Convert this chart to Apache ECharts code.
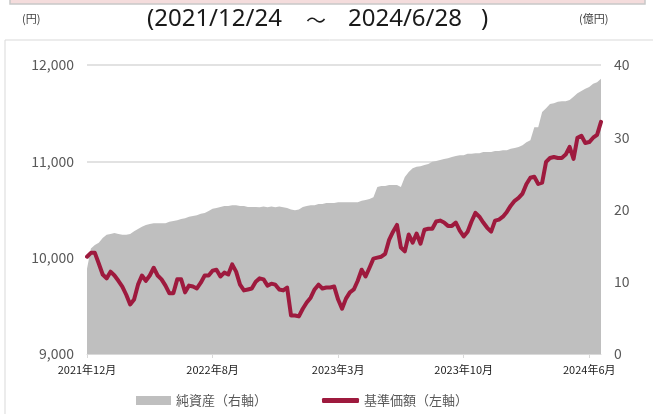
<!DOCTYPE html>
<html>
<head>
<meta charset="utf-8">
<script src="https://cdn.jsdelivr.net/npm/echarts@6/dist/echarts.min.js"></script>
<style>
html,body{margin:0;padding:0;background:#fff;}
#main{width:653px;height:414px;}
</style>
</head>
<body>
<div id="main"></div>
<script>
// 期間
var startDate = '2021-12-24';
var weekCount = 132;

// 基準価額（左軸, 円）
var navValues = [
  10010, 10050, 10050, 9940, 9825, 9785, 9855, 9815, 9760, 9700,
  9615, 9515, 9565, 9720, 9815, 9760, 9815, 9895, 9815, 9775,
  9710, 9630, 9630, 9775, 9775, 9640, 9710, 9700, 9680, 9740,
  9815, 9815, 9865, 9875, 9805, 9845, 9825, 9930, 9855, 9720,
  9660, 9670, 9680, 9750, 9785, 9775, 9710, 9730, 9720, 9670,
  9660, 9690, 9400, 9400, 9390, 9470, 9535, 9585, 9670, 9720,
  9680, 9690, 9690, 9700, 9565, 9470, 9575, 9640, 9670, 9760,
  9875, 9805, 9895, 9990, 10000, 10010, 10040, 10185, 10270, 10340,
  10105, 10065, 10240, 10155, 10250, 10145, 10290, 10300, 10300, 10375,
  10385, 10365, 10330, 10330, 10365, 10280, 10220, 10270, 10375, 10465,
  10425, 10365, 10310, 10270, 10385, 10395, 10425, 10475, 10540, 10590,
  10620, 10665, 10765, 10830, 10840, 10765, 10780, 10995, 11035, 11045,
  11035, 11035, 11070, 11150, 11025, 11245, 11265, 11190, 11200, 11245,
  11275, 11410
];

// 純資産（右軸, 億円）
var assetValues = [
  11.8, 14.6, 15.1, 15.4, 16.05, 16.5, 16.6, 16.75, 16.6, 16.5,
  16.5, 16.6, 17.0, 17.3, 17.6, 17.85, 18.0, 18.1, 18.1, 18.1,
  18.1, 18.3, 18.4, 18.5, 18.7, 18.8, 19.0, 19.1, 19.2, 19.4,
  19.5, 19.8, 20.1, 20.2, 20.35, 20.5, 20.5, 20.6, 20.6, 20.5,
  20.5, 20.35, 20.35, 20.35, 20.3, 20.4, 20.3, 20.4, 20.3, 20.4,
  20.3, 20.2, 20.0, 19.9, 20.0, 20.35, 20.5, 20.6, 20.6, 20.75,
  20.75, 20.9, 20.9, 20.9, 21.0, 21.0, 21.0, 21.0, 21.0, 21.0,
  21.2, 21.3, 21.45, 21.7, 23.1, 23.25, 23.25, 23.4, 23.4, 23.4,
  23.1, 24.5, 25.2, 25.7, 25.9, 26.0, 26.15, 26.3, 26.6, 26.7,
  26.85, 27.0, 27.1, 27.25, 27.4, 27.5, 27.5, 27.7, 27.7, 27.8,
  27.8, 27.95, 27.95, 27.95, 28.1, 28.1, 28.2, 28.2, 28.4, 28.5,
  28.65, 28.9, 29.3, 29.6, 31.4, 31.4, 33.5, 34.0, 34.6, 34.7,
  34.9, 35.0, 35.0, 35.15, 35.6, 36.1, 36.4, 36.7, 36.95, 37.4,
  37.6, 38.1
];

var leftTicks = [9000, 12000, 1000];
var rightTicks = [0, 40, 10];

// 週次の日付
var dates = [];
var d0 = new Date(startDate + 'T00:00:00Z');
for (var i = 0; i < weekCount; i++) {
  var d = new Date(d0.getTime() + i * 7 * 86400000);
  dates.push(d.getUTCFullYear() + '/' + (d.getUTCMonth() + 1) + '/' + d.getUTCDate());
}

var font = '"Noto Sans CJK JP", sans-serif';
var titleFont = '24px "Noto Sans", sans-serif';
var chart = echarts.init(document.getElementById('main'));

var option = {
  backgroundColor: '#fff',
  animation: false,
  textStyle: {fontFamily: font},
  graphic: [
    {type: 'rect', shape: {x: 10, y: -2, width: 635, height: 6}, style: {fill: '#f4dcdc', stroke: '#c8c8c8', lineWidth: 1.5}},
    {type: 'rect', shape: {x: 5, y: 40, width: 660, height: 400}, style: {fill: 'none', stroke: '#d9d9d9', lineWidth: 1}},
    {type: 'text', left: 22, top: 13, style: {text: '(円)', font: '11px ' + font, fill: '#404040'}},
    {type: 'text', left: 579, top: 13, style: {text: '(億円)', font: '11px ' + font, fill: '#404040'}},
    // タイトル
    {type: 'text', left: 147, top: 7, style: {text: '(2021/12/24', font: titleFont, fill: '#1a1a1a'}},
    {type: 'text', left: 306, top: 10, style: {text: '～', font: '20px ' + font, fill: '#1a1a1a'}},
    {type: 'text', left: 348, top: 7, style: {text: '2024/6/28', font: titleFont, fill: '#1a1a1a'}},
    {type: 'text', left: 481, top: 7, style: {text: ')', font: titleFont, fill: '#1a1a1a'}}
  ],
  grid: {left: 87, right: 52, top: 65, bottom: 60},
  legend: [
    {data: [{name: '純資産（右軸）', icon: 'rect'}], left: 131, top: 389, itemWidth: 35, itemHeight: 9,
      textStyle: {fontSize: 13, color: '#595959', fontFamily: font}},
    {data: [{name: '基準価額（左軸）', icon: 'roundRect'}], left: 317, top: 389, itemWidth: 37, itemHeight: 5,
      textStyle: {fontSize: 13, color: '#595959', fontFamily: font}}
  ],
  xAxis: {
    type: 'category',
    data: dates,
    boundaryGap: false,
    axisLine: {lineStyle: {color: '#d9d9d9'}},
    axisTick: {interval: 31, length: 4, lineStyle: {color: '#d9d9d9'}},
    axisLabel: {
      interval: 31, color: '#1a1a1a', fontSize: 11, margin: 10,
      formatter: function (v) {
        var p = v.split('/');
        return p[0] + '年' + p[1] + '月';
      }
    }
  },
  yAxis: [
    {
      type: 'value', min: leftTicks[0], max: leftTicks[1], interval: leftTicks[2],
      axisLine: {show: false}, axisTick: {show: false},
      splitLine: {lineStyle: {color: '#d9d9d9', width: 1.5}},
      axisLabel: {color: '#595959', fontSize: 14, margin: 13,
        formatter: function (v) { return v.toLocaleString('en-US'); }}
    },
    {
      type: 'value', min: rightTicks[0], max: rightTicks[1], interval: rightTicks[2],
      axisLine: {show: false}, axisTick: {show: false}, splitLine: {show: false},
      axisLabel: {color: '#595959', fontSize: 14, margin: 13}
    }
  ],
  series: [
    {
      name: '純資産（右軸）', type: 'line', yAxisIndex: 1, data: assetValues,
      symbol: 'none', lineStyle: {width: 0}, itemStyle: {color: '#bfbfbf'},
      areaStyle: {color: '#bfbfbf', opacity: 1}, z: 1
    },
    {
      name: '基準価額（左軸）', type: 'line', yAxisIndex: 0, data: navValues,
      symbol: 'none', lineStyle: {width: 4, color: '#9e1a3e', join: 'round', cap: 'round'},
      itemStyle: {color: '#9e1a3e'}, z: 3
    }
  ]
};
chart.setOption(option);
</script>
</body>
</html>
